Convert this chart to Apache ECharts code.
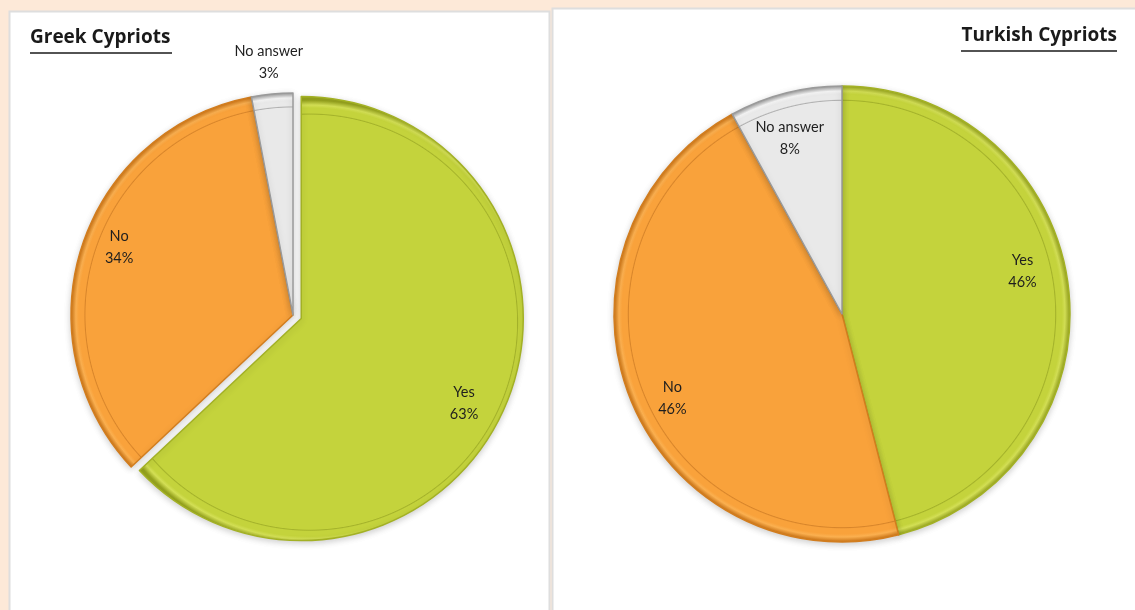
<!DOCTYPE html>
<html>
<head>
<meta charset="utf-8">
<script src="https://cdn.jsdelivr.net/npm/echarts@6/dist/echarts.min.js"></script>
<style>
html,body{margin:0;padding:0;background:#fde9d8;}
#c{width:1135px;height:610px;}
</style>
</head>
<body>
<div id="c"></div>
<script>
// ---- data ----
const categories = ['Yes', 'No', 'No answer'];
const greekValues = [63, 34, 3];
const turkishValues = [46, 46, 8];
const titles = ['Greek Cypriots', 'Turkish Cypriots'];

// ---- style ----
const palette = [
  {base:'#c4d33c', line:'#a4b22a', hi:'#d3df55', dark:'#96a31e', border:'#a3b124'},
  {base:'#f9a23b', line:'#d8852a', hi:'#fbb050', dark:'#cc7415', border:'#d27d1e'},
  {base:'#e9e9e9', line:'#b0b0b0', hi:'#f6f6f6', dark:'#9a9a9a', border:'#9a9a9a'}
];
const labelFont = {fontFamily:'Lato', fontSize:14.5, color:'#1e1e1e', lineHeight:22};

const chart = echarts.init(document.getElementById('c'));

function rimGradient(cx, cy, r, p) {
  return {
    type:'radial', x:cx, y:cy, r:r, global:true,
    colorStops:[
      {offset:0, color:p.base},
      {offset:0.933, color:p.base},
      {offset:0.937, color:p.line},
      {offset:0.942, color:p.base},
      {offset:0.965, color:p.base},
      {offset:0.978, color:p.hi},
      {offset:1, color:p.dark}
    ]
  };
}

function buildPie(values, cx, cy, r, explodeIdx, explodeOff) {
  const total = values.reduce((a,b)=>a+b,0);
  let acc = 0;
  const data = values.map((v,i)=>{
    const mid = (acc + v/2) / total * Math.PI * 2; acc += v;
    const ex = i === explodeIdx ? explodeOff : 0;
    const gx = cx + Math.sin(mid) * ex, gy = cy - Math.cos(mid) * ex;
    return {
      name: categories[i], value: v, selected: i === explodeIdx,
      itemStyle: {color: rimGradient(gx, gy, r, palette[i]), borderColor: palette[i].border}
    };
  });
  return {
    type:'pie', center:[cx, cy], radius:[0, r], startAngle:90, clockwise:true,
    selectedMode:'single', selectedOffset:explodeOff, silent:true, animation:false,
    label:{show:false}, labelLine:{show:false},
    itemStyle:{borderWidth:1.5, borderJoin:'round', shadowBlur:6, shadowColor:'rgba(0,0,0,0.18)', shadowOffsetY:2},
    data: data
  };
}

function buildLabels(values, cx, cy, r, inner, outer, showIdx, explodeIdx, explodeOff, nudges) {
  return {
    type:'pie', center:[cx, cy], radius:[inner, outer], startAngle:90, clockwise:true,
    selectedMode:'single', selectedOffset:explodeOff, silent:true, animation:false,
    itemStyle:{color:'rgba(0,0,0,0)'},
    label:Object.assign({show:true, position:'inside', formatter:'{b}\n{c}%'}, labelFont),
    labelLine:{show:false},
    labelLayout: function(p) { return nudges[p.dataIndex] || {}; },
    data: values.map((v,i)=>({
      name: categories[i], value: v, selected: i === explodeIdx,
      label: {show: showIdx.indexOf(i) >= 0}
    }))
  };
}

const L = {cx:293, cy:315, r:222};
const R = {cx:842, cy:314, r:228};
const titleStyle = {fontFamily:'Open Sans', fontSize:19, fontWeight:'bold', color:'#1a1a1a'};

const option = {
  backgroundColor:'#fde9d8',
  graphic:[
    {type:'rect', z:-10, shape:{x:9.5, y:11.5, width:540, height:610}, style:{fill:'#ffffff', stroke:'#dedede', lineWidth:2}},
    {type:'rect', z:-10, shape:{x:552.5, y:8.5, width:590, height:610}, style:{fill:'#ffffff', stroke:'#dedede', lineWidth:2}},
    {type:'line', z:5, shape:{x1:30, y1:53, x2:172, y2:53}, style:{stroke:'#1a1a1a', lineWidth:1.5}},
    {type:'line', z:5, shape:{x1:961, y1:51, x2:1117, y2:51}, style:{stroke:'#1a1a1a', lineWidth:1.5}}
  ],
  title:[
    {text:titles[0], left:30, top:28, padding:0, textStyle:titleStyle},
    {text:titles[1], right:18, top:26, padding:0, textStyle:titleStyle}
  ],
  series:[
    buildPie(greekValues, L.cx, L.cy, L.r, 0, 9),
    buildLabels(greekValues, L.cx, L.cy, L.r, L.r*0.62, L.r, [0,1], 0, 9,
      [{dx:-5, dy:12}, {dy:-11}, {}]),
    buildLabels(greekValues, L.cx, L.cy, L.r, L.r, L.r*1.3, [2], -1, 0,
      [{}, {}, {dy:4}]),
    buildPie(turkishValues, R.cx, R.cy, R.r, -1, 0),
    buildLabels(turkishValues, R.cx, R.cy, R.r, R.r*0.64, R.r, [0,1,2], -1, 0,
      [{dx:-8, dy:-19}, {dx:7, dy:14}, {dx:-5, dy:8}])
  ]
};
chart.setOption(option);
</script>
</body>
</html>
